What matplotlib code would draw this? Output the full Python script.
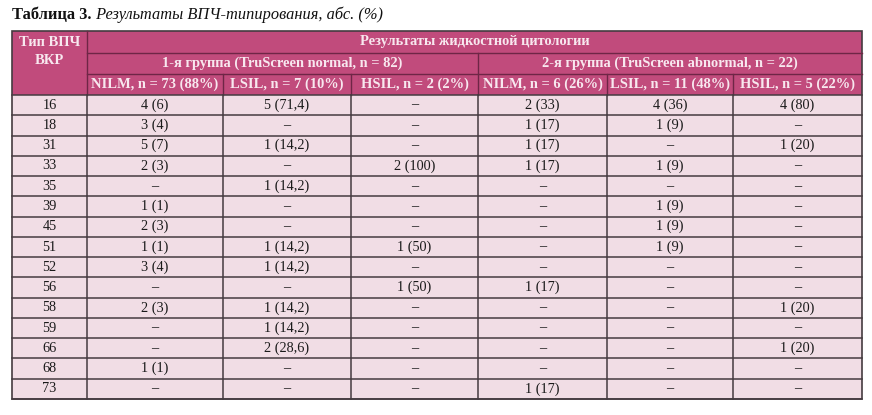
import matplotlib
matplotlib.use("Agg")
import matplotlib.pyplot as plt
from matplotlib.patches import Rectangle

# ---- data ----
title_bold = "Таблица 3."
title_italic = " Результаты ВПЧ-типирования, абс. (%)"
first_col_header = ["Тип ВПЧ", "ВКР"]
top_header = "Результаты жидкостной цитологии"
group_headers = ["1-я группа (TruScreen normal, n = 82)",
                 "2-я группа (TruScreen abnormal, n = 22)"]
sub_headers = ["NILM, n = 73 (88%)", "LSIL, n = 7 (10%)", "HSIL, n = 2 (2%)",
               "NILM, n = 6 (26%)", "LSIL, n = 11 (48%)", "HSIL, n = 5 (22%)"]
hpv_types = ["16", "18", "31", "33", "35", "39", "45", "51", "52", "56",
             "58", "59", "66", "68", "73"]
g1_nilm = ["4 (6)", "3 (4)", "5 (7)", "2 (3)", "–", "1 (1)", "2 (3)", "1 (1)",
           "3 (4)", "–", "2 (3)", "–", "–", "1 (1)", "–"]
g1_lsil = ["5 (71,4)", "–", "1 (14,2)", "–", "1 (14,2)", "–", "–", "1 (14,2)",
           "1 (14,2)", "–", "1 (14,2)", "1 (14,2)", "2 (28,6)", "–", "–"]
g1_hsil = ["–", "–", "–", "2 (100)", "–", "–", "–", "1 (50)", "–", "1 (50)",
           "–", "–", "–", "–", "–"]
g2_nilm = ["2 (33)", "1 (17)", "1 (17)", "1 (17)", "–", "–", "–", "–", "–",
           "1 (17)", "–", "–", "–", "–", "1 (17)"]
g2_lsil = ["4 (36)", "1 (9)", "–", "1 (9)", "–", "1 (9)", "1 (9)", "1 (9)",
           "–", "–", "–", "–", "–", "–", "–"]
g2_hsil = ["4 (80)", "–", "1 (20)", "–", "–", "–", "–", "–", "–", "–",
           "1 (20)", "–", "1 (20)", "–", "–"]

columns = [hpv_types, g1_nilm, g1_lsil, g1_hsil, g2_nilm, g2_lsil, g2_hsil]

# ---- layout (pixels) ----
W, H = 872, 415
col_edges = [12, 87, 223, 351, 478, 607, 733, 862]
y_top = 31
y_h1 = 53
y_h2 = 74
y_data = 95
y_bot = 399
n_rows = len(hpv_types)
row_h = (y_bot - y_data) / n_rows

head_fill = "#C14B7C"
head_text = "#F8E8EF"
data_fill = "#F1DDE5"
line_dark = "#453B40"
head_line = "#6E2646"
txt_col = "#1A1A1A"

plt.rcParams['font.family'] = ['Liberation Serif', 'DejaVu Serif']

fig = plt.figure(figsize=(W / 100, H / 100), dpi=100)
ax = fig.add_axes([0, 0, 1, 1])
ax.set_xlim(0, W)
ax.set_ylim(H, 0)
ax.axis("off")

x0, x1 = col_edges[0], col_edges[-1]
# fills
ax.add_patch(Rectangle((x0, y_top), x1 - x0, y_data - y_top, facecolor=head_fill, edgecolor="none"))
ax.add_patch(Rectangle((x0, y_data), x1 - x0, y_bot - y_data, facecolor=data_fill, edgecolor="none"))

lw = 1.0
# header lines
ax.plot([col_edges[1], x1], [y_h1, y_h1], color=head_line, lw=lw)
ax.plot([col_edges[1], x1], [y_h2, y_h2], color=head_line, lw=lw)
ax.plot([col_edges[1], col_edges[1]], [y_top, y_data], color=head_line, lw=lw)
ax.plot([col_edges[4], col_edges[4]], [y_h1, y_data], color=head_line, lw=lw)
for xe in col_edges[2:-1]:
    if xe != col_edges[4]:
        ax.plot([xe, xe], [y_h2, y_data], color=head_line, lw=lw)

# data grid
for i in range(n_rows + 1):
    y = y_data + i * row_h
    ax.plot([x0, x1], [y, y], color=line_dark, lw=1.1)
for xe in col_edges[1:-1]:
    ax.plot([xe, xe], [y_data, y_bot], color=line_dark, lw=1.1)
# outer border
ax.add_patch(Rectangle((x0, y_top), x1 - x0, y_bot - y_top, facecolor="none", edgecolor=line_dark, lw=1.2))

fs_h = 10.45
fs = 10.3
# header texts
cx0 = (col_edges[0] + col_edges[1]) / 2
ax.text(cx0, 43, first_col_header[0], ha="center", va="center",
        fontsize=fs_h, fontweight="bold", color=head_text)
ax.text(cx0, 61, first_col_header[1], ha="center", va="center",
        fontsize=fs_h, fontweight="bold", color=head_text)
ax.text((col_edges[1] + x1) / 2, (y_top + y_h1) / 2, top_header, ha="center", va="center",
        fontsize=fs_h, fontweight="bold", color=head_text)
ax.text((col_edges[1] + col_edges[4]) / 2, (y_h1 + y_h2) / 2, group_headers[0], ha="center", va="center",
        fontsize=fs_h, fontweight="bold", color=head_text)
ax.text((col_edges[4] + x1) / 2, (y_h1 + y_h2) / 2, group_headers[1], ha="center", va="center",
        fontsize=fs_h, fontweight="bold", color=head_text)
for j, s in enumerate(sub_headers):
    cx = (col_edges[j + 1] + col_edges[j + 2]) / 2
    ax.text(cx, (y_h2 + y_data) / 2, s, ha="center", va="center",
            fontsize=fs_h, fontweight="bold", color=head_text)

# data texts
for j, col in enumerate(columns):
    cx = (col_edges[j] + col_edges[j + 1]) / 2
    for i, s in enumerate(col):
        cy = y_data + (i + 0.5) * row_h
        ax.text(cx, cy, s, ha="center", va="center", fontsize=fs, color=txt_col)

# title
t1 = ax.text(12, 15, title_bold, ha="left", va="center", fontsize=11.75, fontweight="bold", color="#111111")
fig.canvas.draw()
bb = t1.get_window_extent(renderer=fig.canvas.get_renderer())
x_end = bb.x1
ax.text(x_end, 15, title_italic, ha="left", va="center", fontsize=11.75, fontstyle="italic", color="#111111")

fig.savefig("out.png", dpi=100)
